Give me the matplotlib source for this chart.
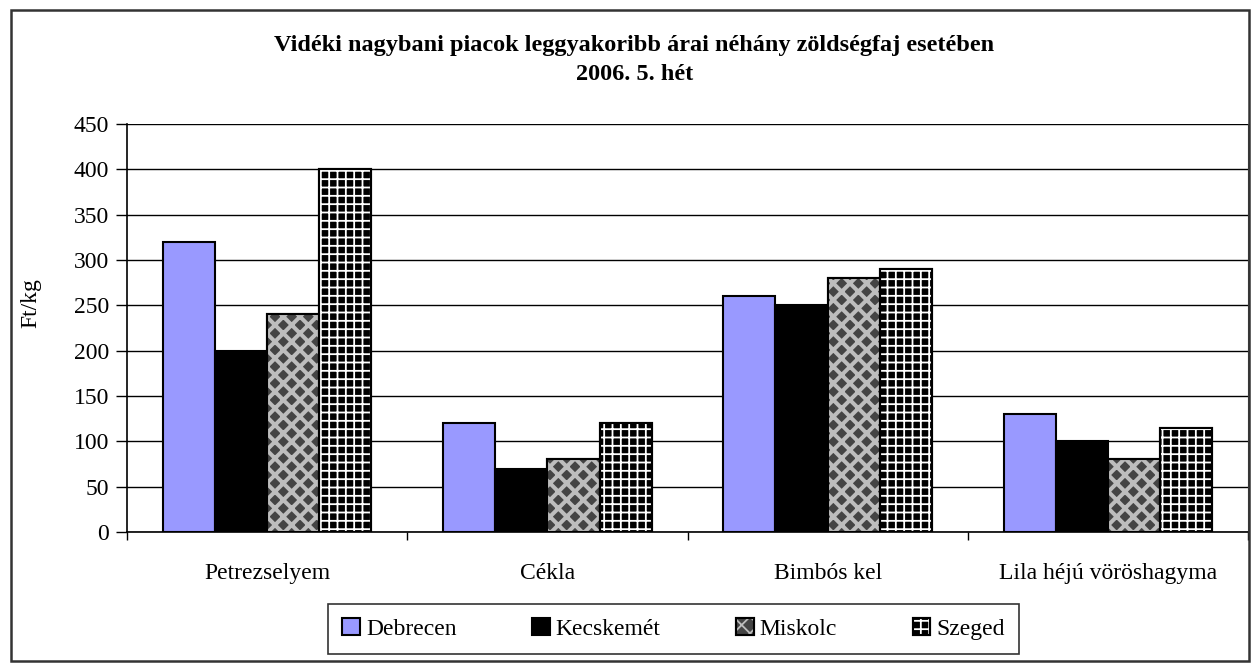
import numpy as np
import matplotlib
matplotlib.use("Agg")
import matplotlib.pyplot as plt
from matplotlib.patches import Patch, Rectangle

plt.rcParams['font.family'] = ['Liberation Serif', 'DejaVu Serif']

categories = ['Petrezselyem', 'Cékla', 'Bimbós kel', 'Lila héjú vöröshagyma']
cities = ['Debrecen', 'Kecskemét', 'Miskolc', 'Szeged']
debrecen = [320, 120, 260, 130]
kecskemet = [200, 70, 250, 100]
miskolc = [240, 80, 280, 80]
szeged = [400, 120, 290, 115]
values = [debrecen, kecskemet, miskolc, szeged]

# face colour, hatch, hatch colour, hatch linewidth
styles = [
    ('#9999ff', None, None, 0),
    ('#000000', None, None, 0),
    ('#444444', 'xx', '#bdbdbd', 2.9),
    ('#000000', '++', '#ffffff', 1.3),
]

FS = 17

fig = plt.figure(figsize=(12.54, 6.68), dpi=100)
ax = fig.add_axes([127 / 1254, 1 - 532 / 668, 1121 / 1254, 408 / 668])

x = np.arange(len(categories))
w = 0.186
handles = []
for i, (vals, (fc, hatch, hc, hlw)) in enumerate(zip(values, styles)):
    pos = x + (i - 1.5) * w
    ax.bar(pos, vals, w, color=fc, edgecolor='black', linewidth=1.5, zorder=3)
    parts = [Patch(facecolor=fc, edgecolor='black', linewidth=1.5)]
    if hatch:
        plt.rcParams['hatch.linewidth'] = hlw
        hb = ax.bar(pos, vals, w, facecolor='none', edgecolor=hc, linewidth=0,
                    hatch=hatch, zorder=4)
        for p in hb:
            if hasattr(p, 'set_hatch_linewidth'):
                p.set_hatch_linewidth(hlw)
        ax.bar(pos, vals, w, facecolor='none', edgecolor='black', linewidth=1.5, zorder=5)
        hp = Patch(facecolor='none', edgecolor=hc, linewidth=0, hatch=hatch)
        if hasattr(hp, 'set_hatch_linewidth'):
            hp.set_hatch_linewidth(hlw)
        parts += [hp, Patch(facecolor='none', edgecolor='black', linewidth=1.5)]
    handles.append(tuple(parts))

ax.set_xlim(-0.5, len(categories) - 0.5)
ax.set_ylim(0, 450)
ax.set_yticks(np.arange(0, 451, 50))
ax.yaxis.grid(True, color='black', linewidth=1)
ax.set_axisbelow(True)
ax.spines['top'].set_visible(False)
ax.spines['right'].set_color('#444444')
ax.spines['left'].set_linewidth(1.2)
ax.spines['bottom'].set_linewidth(1.2)

ax.set_xticks(np.arange(len(categories) + 1) - 0.5)
ax.set_xticklabels([])
ax.tick_params(axis='x', length=6, width=1, direction='out')
ax.set_xticks(x, minor=True)
ax.set_xticklabels(categories, minor=True, fontsize=FS)
ax.tick_params(axis='x', which='minor', length=0, pad=22)
ax.tick_params(axis='y', labelsize=FS, length=8, width=1, pad=5)
ax.set_ylabel('Ft/kg', fontsize=FS)
ax.yaxis.set_label_coords(-0.076, 0.56)

fig.text(0.506, 1 - 45 / 668, 'Vidéki nagybani piacok leggyakoribb árai néhány zöldségfaj esetében',
         ha='center', va='center', fontsize=17.5, fontweight='bold')
fig.text(0.506, 1 - 74 / 668, '2006. 5. hét',
         ha='center', va='center', fontsize=17.5, fontweight='bold')

leg = fig.legend(handles, cities, loc='center', bbox_to_anchor=(673.5 / 1254, 1 - 629 / 668),
                 ncol=4, fontsize=FS, frameon=True, fancybox=False, edgecolor='black',
                 handlelength=0.75, handleheight=0.75, handletextpad=0.25, columnspacing=3.2,
                 borderpad=0.6, borderaxespad=0)
leg.get_frame().set_linewidth(1.2)

fig.patches.append(Rectangle((11 / 1254, 1 - 661 / 668), 1238 / 1254, 651 / 668,
                             transform=fig.transFigure, fill=False, edgecolor='#333333',
                             linewidth=1.8))

fig.savefig('out.png', dpi=100)
